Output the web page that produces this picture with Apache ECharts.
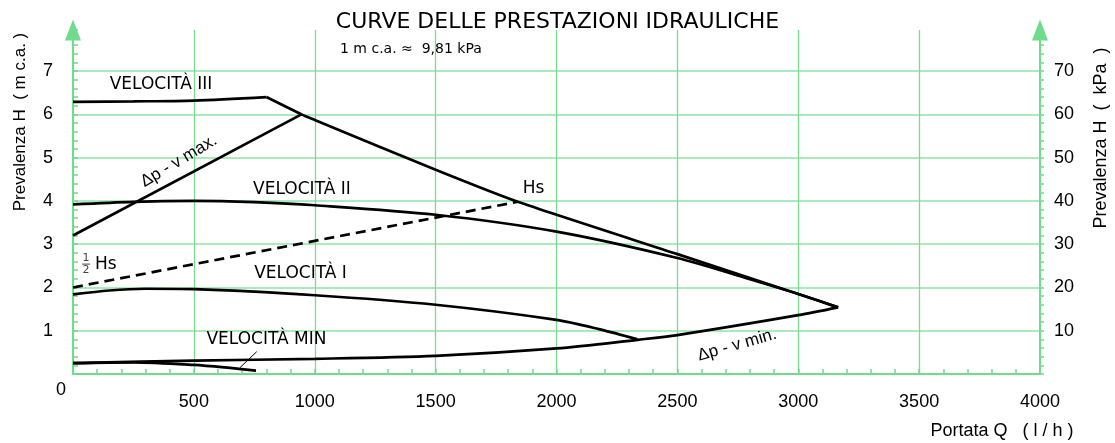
<!DOCTYPE html>
<html><head><meta charset="utf-8">
<script src="https://cdn.jsdelivr.net/npm/echarts@6/dist/echarts.min.js"></script>
<style>html,body{margin:0;padding:0;background:#fff}#c{width:1115px;height:443px}</style>
</head><body><div id="c"></div>
<script>
// ---- data (Q in l/h, H in m c.a.) ----
const qTickLabels = [500, 1000, 1500, 2000, 2500, 3000, 3500, 4000];
const hTickLabels = [1, 2, 3, 4, 5, 6, 7];
const kpaTickLabels = [10, 20, 30, 40, 50, 60, 70];

const velIIIFlat = [[0, 6.29], [250, 6.30], [500, 6.32], [800, 6.40]];
const velIIIDown = [[800, 6.40], [945, 6.0], [1000, 5.87], [1500, 4.72], [1840, 3.98], [2500, 2.77], [3000, 1.85], [3165, 1.54]];
const velII = [[0, 3.92], [250, 3.98], [500, 4.0], [750, 3.97], [1000, 3.90], [1500, 3.68], [2000, 3.29], [2500, 2.68], [2800, 2.19], [3000, 1.85], [3165, 1.54]];
const velI = [[0, 1.84], [150, 1.93], [300, 1.97], [500, 1.96], [1000, 1.82], [1500, 1.60], [2000, 1.25], [2180, 1.03], [2335, 0.80]];
const velMin = [[0, 0.25], [250, 0.27], [500, 0.21], [650, 0.14], [757, 0.08]];
const deltaPMax = [[0, 3.2], [945, 6.0]];
const deltaPMin = [[0, 0.25], [500, 0.31], [1000, 0.35], [1500, 0.42], [2000, 0.59], [2335, 0.79], [2500, 0.90], [3000, 1.36], [3165, 1.54]];
const halfHs = [[0, 2.0], [1840, 3.98]];
const velMinLeader = [[690, 0.145], [760, 0.515]];

// annotation texts: [text, Q, H, rotation°]
const curveLabels = [
  ['VELOCITÀ III', 364, 6.70, 0],
  ['VELOCITÀ II', 947, 4.27, 0],
  ['VELOCITÀ I', 941, 2.33, 0],
  ['VELOCITÀ MIN', 800, 0.785, 0],
  ['Hs', 1905, 4.29, 0],
  ['Hs', 136, 2.53, 0]
];
const slopeLabels = [
  ['Δp - v max.', 438, 4.92, 31],
  ['Δp - v min.', 2747, 0.67, 16]
];
const fractionLabel = [[54, 2.54]];

// ---- styles ----
const GREEN = '#6edc8c';
const GRID = '#8fe3a3';
const VGRID = '#79dd91';
const INK = '#000';
const SANS = 'Liberation Sans';
const VERD = 'DejaVu Sans';

const chart = echarts.init(document.getElementById('c'));

function curve(data, extra) {
  return Object.assign({
    type: 'line', data: data, symbol: 'none', smooth: 0.3, silent: true,
    lineStyle: { color: '#000', width: 2.7 }, z: 5, xAxisIndex: 0, yAxisIndex: 0
  }, extra || {});
}
function labelSeries(items, font, size) {
  return {
    type: 'scatter', symbolSize: 0, silent: true, z: 6,
    itemStyle: { opacity: 1 },
    data: items.map(d => ({ value: [d[1], d[2]], name: d[0], label: { rotate: d[3] } })),
    label: { show: true, position: 'inside', formatter: p => p.name, color: INK, opacity: 1, fontFamily: font, fontSize: size }
  };
}

const option = {
  animation: false,
  title: [
    { text: 'CURVE DELLE PRESTAZIONI IDRAULICHE', left: 'center', top: 6,
      textStyle: { fontFamily: VERD, fontSize: 22, fontWeight: 'normal', color: INK } },
    { text: '1 m c.a. ≈  9,81 kPa', left: 335, top: 37,
      textStyle: { fontFamily: VERD, fontSize: 14, fontWeight: 'normal', color: INK } }
  ],
  grid: { left: 73, right: 75, top: 30, bottom: 69, containLabel: false },
  xAxis: {
    type: 'value', min: 0, max: 4000, interval: 500,
    axisLine: { show: true, onZero: false, lineStyle: { color: GREEN, width: 2 } },
    axisTick: { show: true, inside: true, length: 5, lineStyle: { color: GREEN, width: 1.5 } },
    minorTick: { show: true, splitNumber: 5, length: 5, lineStyle: { color: GREEN, width: 1.5 } },
    splitLine: { show: true, showMinLine: false, showMaxLine: false, lineStyle: { color: VGRID, width: 1.3 } },
    axisLabel: { formatter: v => qTickLabels.includes(v) ? String(v) : '', margin: 19, color: INK, fontFamily: SANS, fontSize: 18 }
  },
  yAxis: [
    {
      type: 'value', min: 0, max: 7.95, interval: 1, position: 'left',
      axisLine: { show: true, symbol: ['none', 'triangle'], symbolSize: [16, 21], lineStyle: { color: GREEN, width: 2 } },
      axisTick: { show: true, inside: true, length: 5, lineStyle: { color: GREEN, width: 1.5 } },
      minorTick: { show: true, splitNumber: 5, length: 5, lineStyle: { color: GREEN, width: 1.5 } },
      splitLine: { show: true, showMinLine: false, showMaxLine: false, lineStyle: { color: GRID, width: 1.5 } },
      axisLabel: { formatter: v => hTickLabels.includes(v) ? String(v) : '', showMaxLabel: false, margin: 20, color: INK, fontFamily: SANS, fontSize: 18 }
    },
    {
      type: 'value', min: 0, max: 79.5, interval: 10, position: 'right',
      axisLine: { show: true, symbol: ['none', 'triangle'], symbolSize: [16, 21], lineStyle: { color: GREEN, width: 2 } },
      axisTick: { show: true, inside: false, length: 4, lineStyle: { color: GREEN, width: 1.5 } },
      minorTick: { show: true, splitNumber: 5, length: 4, lineStyle: { color: GREEN, width: 1.5 } },
      splitLine: { show: false },
      axisLabel: { formatter: v => kpaTickLabels.includes(v) ? String(v) : '', showMaxLabel: false, margin: 14, color: INK, fontFamily: SANS, fontSize: 18 }
    }
  ],
  graphic: [
    { type: 'text', x: 61, y: 390, silent: true,
      style: { text: '0', fill: INK, font: '18px "Liberation Sans"', align: 'center', verticalAlign: 'middle' } },
    { type: 'text', x: 20, y: 122, rotation: Math.PI / 2, silent: true,
      style: { text: 'Prevalenza H  ( m c.a. )', fill: INK, font: '17px "Liberation Sans"', align: 'center', verticalAlign: 'middle' } },
    { type: 'text', x: 1101, y: 138, rotation: Math.PI / 2, silent: true,
      style: { text: 'Prevalenza H  (  kPa  )', fill: INK, font: '18px "Liberation Sans"', align: 'center', verticalAlign: 'middle' } },
    { type: 'text', x: 1002, y: 431, silent: true,
      style: { text: 'Portata Q   ( l / h )', fill: INK, font: '18px "Liberation Sans"', align: 'center', verticalAlign: 'middle' } }
  ],
  series: [
    curve(velIIIFlat),
    curve(velIIIDown, { smooth: 0.2 }),
    curve(velII),
    curve(velI),
    curve(velMin),
    curve(deltaPMax, { smooth: false }),
    curve(deltaPMin),
    curve(halfHs, { smooth: false, lineStyle: { color: '#000', width: 2.7, type: [10, 6] } }),
    curve(velMinLeader, { smooth: false, lineStyle: { color: '#000', width: 1 } }),
    labelSeries(curveLabels, VERD, 17),
    labelSeries(slopeLabels, SANS, 17),
    {
      type: 'scatter', symbolSize: 0, silent: true, z: 6, data: fractionLabel,
      itemStyle: { opacity: 1 },
      label: {
        show: true, position: 'inside', formatter: '{n|1}\n{b|}\n{n|2}',
        rich: {
          n: { fontSize: 11, lineHeight: 9, fontFamily: VERD, color: '#444', align: 'center' },
          b: { width: 8, height: 1, lineHeight: 3, backgroundColor: '#444', align: 'center' }
        }
      }
    }
  ]
};
chart.setOption(option);
</script>
</body></html>
